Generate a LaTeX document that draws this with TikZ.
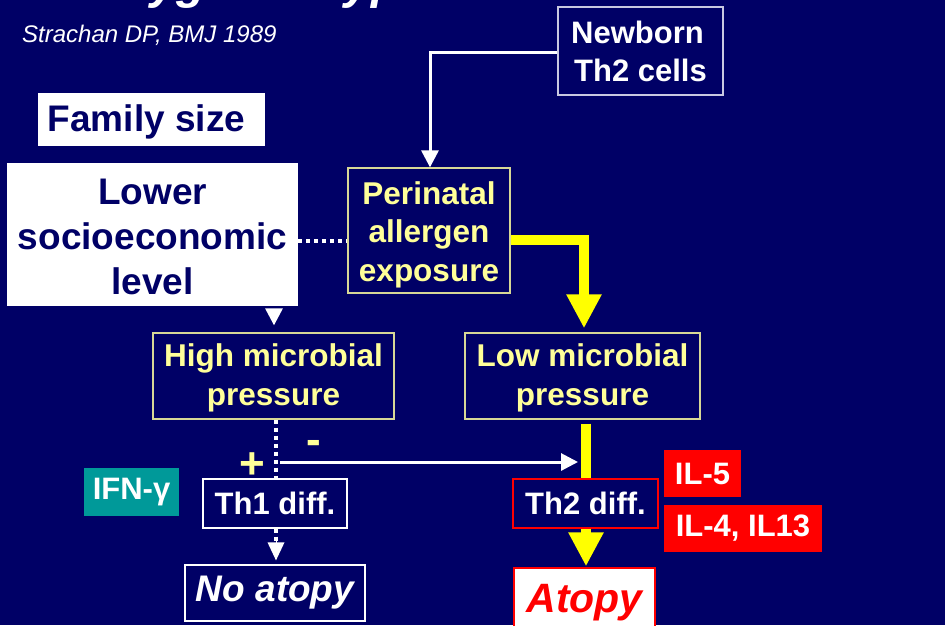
\documentclass[tikz,border=0pt]{standalone}
\usepackage{fontspec}
\setmainfont{Liberation Sans}
\usetikzlibrary{arrows.meta}
\definecolor{bg}{RGB}{0,0,102}
\definecolor{navy}{RGB}{0,0,102}
\definecolor{ltyel}{RGB}{255,255,153}
\definecolor{boxyel}{RGB}{215,215,150}
\definecolor{boxwht}{RGB}{200,200,225}
\definecolor{tealbox}{RGB}{0,153,153}
\definecolor{brightred}{RGB}{255,0,0}
\definecolor{brightyel}{RGB}{255,255,0}
\begin{document}
\begin{tikzpicture}[x=1pt,y=-1pt,
  every node/.style={inner sep=0pt, align=center},
  whitebox/.style={fill=white, text=navy, font=\fontsize{37}{45}\selectfont\bfseries},
  yelbox/.style={draw=boxyel, line width=1.3pt},
  yeltext/.style={text=ltyel, font=\fontsize{31.5}{38.5}\selectfont\bfseries},
  outbox/.style={draw=white, line width=1.3pt, text=white, font=\fontsize{31}{38}\selectfont\bfseries},
  redlabel/.style={fill=brightred, text=white, font=\fontsize{31}{38}\selectfont\bfseries},
  signlabel/.style={text=ltyel, font=\fontsize{44}{50}\selectfont\bfseries},
  whiteline/.style={draw=white, line width=3pt},
  whitetip/.style={-{Triangle[width=17pt,length=17pt]}},
  dotline/.style={draw=white, line width=4pt, dash pattern=on 4pt off 4pt},
  yelline/.style={draw=brightyel, line width=10pt},
  yeltip/.style={-{Triangle[width=33pt,length=34pt]}}
]
\useasboundingbox (0,0) rectangle (945,625);
\clip (0,0) rectangle (945,625);
\fill[bg] (0,0) rectangle (945,625);

% title (cut off at top) and citation
\node[anchor=base west, text=white, font=\fontsize{48}{56}\selectfont\bfseries\itshape] (title) at (22,-1.5) {The hygiene hypothesis};
\node[anchor=base west, text=white, font=\fontsize{24}{28}\selectfont\itshape] (cite) at (22,42) {Strachan DP, BMJ 1989};

% boxes
\node[whitebox, minimum width=227pt, minimum height=53pt,
      label={[whitebox, yshift=-2pt, xshift=-5pt]center:Family size}] (family) at (151.5,119.5) {};
\node[whitebox, minimum width=291pt, minimum height=143pt,
      label={[whitebox, yshift=-2pt]center:Lower\\socioeconomic\\level}] (lower) at (152.5,234.5) {};
\node[outbox, draw=boxwht, minimum width=165pt, minimum height=88pt] (newborn) at (640.5,51) {Newborn\hspace*{6pt}\\Th2 cells};
\node[yelbox, minimum width=162pt, minimum height=125pt,
      label={[yeltext, yshift=-4pt]center:Perinatal\\allergen\\exposure}] (peri) at (429,230.5) {};
\node[yelbox, minimum width=241pt, minimum height=86pt,
      label={[yeltext, yshift=-2pt]center:High microbial\\pressure}] (high) at (273.5,376) {};
\node[yelbox, minimum width=235pt, minimum height=86pt,
      label={[yeltext, yshift=-2pt]center:Low microbial\\pressure}] (low) at (582.5,376) {};
\node[outbox, minimum width=144pt, minimum height=49pt] (th1) at (275,503.5) {Th1 diff.};
\node[outbox, draw=brightred, minimum width=145pt, minimum height=49pt] (th2) at (585.5,503.5) {Th2 diff.};
\node[outbox, minimum width=180pt, minimum height=56pt, font=\fontsize{37}{42}\selectfont\bfseries\itshape] (noatopy) at (275,593) {No atopy};
\node[draw=brightred, line width=1.3pt, fill=white, text=brightred, minimum width=141pt, minimum height=70pt, font=\fontsize{41}{46}\selectfont\bfseries\itshape] (atopy) at (584.5,603) {Atopy};
\node[fill=tealbox, text=white, minimum width=95pt, minimum height=48pt, font=\fontsize{31}{38}\selectfont\bfseries] (ifn) at (131.5,492) {IFN-γ};
\node[redlabel, minimum width=77pt, minimum height=47pt] (il5) at (702.5,473.5) {IL-5};
\node[redlabel, minimum width=158pt, minimum height=47pt] (il4) at (743,528.5) {IL-4, IL13};

% signs
\node[signlabel] (plus) at (252,466) {+};
\node[signlabel] (minus) at (314,447) {-};

% connectors
\draw[whiteline, whitetip] (newborn.west |- 0,52) -| (peri.north -| 430,0);
\draw[dotline] (lower.east |- 0,241) -- (peri.west |- 0,241);
\draw[whiteline, whitetip, shorten <=3pt, shorten >=7pt] (lower.south -| 274,0) -- (high.north -| 274,0);
\draw[yelline, yeltip, shorten >=4pt] (peri.east |- 0,240) -| (low.north -| 584,0);
\draw[dotline] (high.south -| 276,0) -- (th1.north -| 276,0);
\coordinate (branch) at (280,462);
\coordinate (th2in) at (578,462);
\draw[whiteline, whitetip] (branch) -- (th2in);
\draw[yelline] ([yshift=-4pt]low.south -| 586,0) -- (th2.north -| 586,0);
\draw[dotline] (th1.south -| 276,0) -- (276,547);
\draw[white, line width=0pt, shorten >=4pt, -{Triangle[width=17pt,length=18pt]}] (276,540) -- (noatopy.north -| 276,0);
\draw[yelline, yeltip, shorten >=1pt] (th2.south -| 586,0) -- (atopy.north -| 586,0);
\end{tikzpicture}
\end{document}
